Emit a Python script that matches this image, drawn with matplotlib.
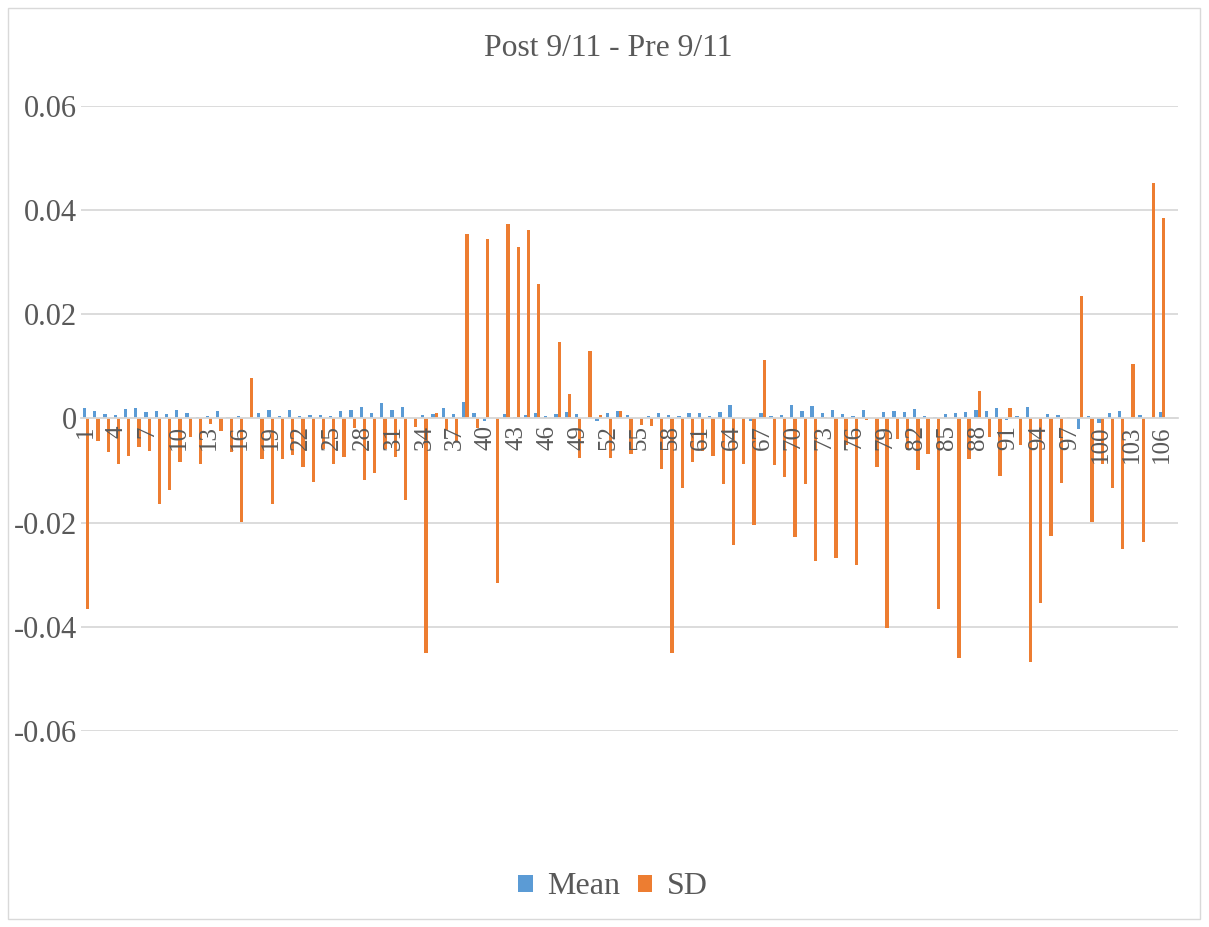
import numpy as np
import matplotlib.pyplot as plt
from matplotlib.patches import Rectangle
from matplotlib.ticker import FuncFormatter

plt.rcParams['font.family'] = ['Liberation Serif', 'DejaVu Serif']

TITLE = "Post 9/11 - Pre 9/11"
SERIES = ["Mean", "SD"]
COLORS = ["#5B9BD5", "#ED7D31"]

# one value per category (1..107)
mean = [
    0.0020, 0.0014, 0.0008, 0.0007, 0.0019, 0.0020, 0.0013, 0.0015, 0.0009, 0.0016,
    0.0010, 0.0003, 0.0005, 0.0014, 0.0003, 0.0004, 0.0000, 0.0010, 0.0016, 0.0005,
    0.0016, 0.0004, 0.0006, 0.0007, 0.0005, 0.0015, 0.0016, 0.0023, 0.0011, 0.0030,
    0.0017, 0.0022, 0.0000, 0.0007, 0.0008, 0.0020, 0.0008, 0.0031, 0.0011, -0.0005,
    0.0000, 0.0008, 0.0003, 0.0006, 0.0010, 0.0004, 0.0008, 0.0012, 0.0008, 0.0000,
    -0.0005, 0.0011, 0.0014, 0.0007, 0.0000, 0.0004, 0.0010, 0.0006, 0.0004, 0.0011,
    0.0011, 0.0005, 0.0012, 0.0026, 0.0000, -0.0005, 0.0011, 0.0004, 0.0007, 0.0025,
    0.0014, 0.0024, 0.0010, 0.0016, 0.0008, 0.0004, 0.0017, 0.0001, 0.0012, 0.0014,
    0.0012, 0.0019, 0.0004, 0.0003, 0.0008, 0.0010, 0.0012, 0.0017, 0.0015, 0.0020,
    -0.0002, 0.0005, 0.0022, 0.0000, 0.0008, 0.0007, 0.0003, -0.0020, 0.0004, -0.0008,
    0.0010, 0.0015, 0.0000, 0.0007, 0.0000, 0.0012, 0.0000,
]
sd = [
    -0.0365, -0.0043, -0.0065, -0.0087, -0.0072, -0.0054, -0.0063, -0.0164, -0.0138, -0.0084,
    -0.0035, -0.0087, -0.0010, -0.0024, -0.0064, -0.0199, 0.0077, -0.0077, -0.0165, -0.0077,
    -0.0071, -0.0093, -0.0122, -0.0059, -0.0087, -0.0074, -0.0018, -0.0118, -0.0105, -0.0059,
    -0.0074, -0.0156, -0.0017, -0.0451, 0.0010, -0.0022, -0.0043, 0.0354, -0.0019, 0.0345,
    -0.0315, 0.0374, 0.0330, 0.0361, 0.0258, 0.0000, 0.0146, 0.0047, -0.0075, 0.0130,
    0.0006, -0.0075, 0.0014, -0.0068, -0.0012, -0.0015, -0.0096, -0.0451, -0.0133, -0.0084,
    -0.0063, -0.0072, -0.0125, -0.0242, -0.0087, -0.0204, 0.0113, -0.0090, -0.0112, -0.0227,
    -0.0125, -0.0274, 0.0002, -0.0267, -0.0051, -0.0282, -0.0003, -0.0093, -0.0403, -0.0040,
    -0.0060, -0.0098, -0.0068, -0.0365, 0.0000, -0.0459, -0.0077, 0.0052, -0.0035, -0.0111,
    0.0021, -0.0050, -0.0468, -0.0354, -0.0225, -0.0123, 0.0000, 0.0236, -0.0198, -0.0087,
    -0.0133, -0.0250, 0.0104, -0.0238, 0.0452, 0.0384, 0.0000,
]

cats = np.arange(1, len(mean) + 1)
tick_cats = cats[::3]
y_ticks = [-0.06, -0.04, -0.02, 0, 0.02, 0.04, 0.06]

fig = plt.figure(figsize=(12.09, 9.27), dpi=100)
ax = fig.add_axes([0.067, 0.2114, 0.907, 0.6743])

w = 0.32
ax.bar(cats - w / 2, mean, width=w, color=COLORS[0], label=SERIES[0], zorder=2)
ax.bar(cats + w / 2, sd, width=w, color=COLORS[1], label=SERIES[1], zorder=2)

ax.set_xlim(0.5, len(cats) + 0.5)
ax.set_ylim(-0.06, 0.06)
ax.set_yticks(y_ticks)
ax.yaxis.set_major_formatter(FuncFormatter(lambda v, p: f"{v:g}"))
ax.grid(axis='y', color='#d9d9d9', linewidth=1.3)
ax.set_axisbelow(True)
ax.xaxis.set_zorder(3)

ax.set_xticks(tick_cats)
ax.set_xticklabels([str(c) for c in tick_cats])
ax.spines['bottom'].set_position(('data', 0))
ax.spines['bottom'].set_color('#d9d9d9')
ax.spines['bottom'].set_linewidth(1.3)
for s in ['left', 'right', 'top']:
    ax.spines[s].set_visible(False)
ax.tick_params(axis='x', length=0, pad=5, labelsize=18, labelcolor='#595959',
               labelrotation=90)
ax.tick_params(axis='y', length=0, pad=3, labelsize=22, labelcolor='#595959')

fig.text(0.503, 1 - 48 / 927, TITLE, ha='center', va='center', fontsize=22.8, color='#595959')

fig.legend(loc='center', bbox_to_anchor=(0.507, 1 - 887 / 927), ncol=2, frameon=False,
           fontsize=23, handlelength=0.45, handleheight=0.45, handletextpad=0.45,
           columnspacing=0.55, labelcolor='#595959')

fig.patches.append(Rectangle((8 / 1209, 8 / 927), 1192 / 1209, 911 / 927,
                             transform=fig.transFigure, fill=False,
                             edgecolor='#d9d9d9', linewidth=1))

fig.savefig("out.png", dpi=100, facecolor='white')
